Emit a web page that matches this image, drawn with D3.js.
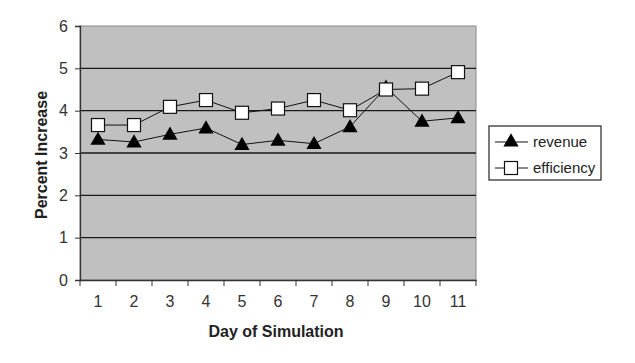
<!DOCTYPE html>
<html>
<head>
<meta charset="utf-8">
<script src="https://cdn.jsdelivr.net/npm/d3@7"></script>
<style>
  body { margin: 0; background: #fff; }
  text { font-family: "Liberation Sans", Arial, sans-serif; }
</style>
</head>
<body>
<script>
var days = ["1", "2", "3", "4", "5", "6", "7", "8", "9", "10", "11"];
var revenue = [3.32, 3.26, 3.44, 3.59, 3.20, 3.30, 3.22, 3.62, 4.55, 3.75, 3.83];
var efficiency = [3.66, 3.66, 4.09, 4.25, 3.95, 4.05, 4.25, 4.01, 4.50, 4.52, 4.91];
var yTicks = [0, 1, 2, 3, 4, 5, 6];

var width = 635,
    height = 363,
    plotLeft = 80, plotRight = 476, plotTop = 26, plotBottom = 280;

var svg = d3.select("body").append("svg")
    .attr("width", width)
    .attr("height", height);

var x = d3.scaleBand().domain(days).range([plotLeft, plotRight]);
var y = d3.scaleLinear().domain([0, 6]).range([plotBottom, plotTop]);

// plot background
svg.append("rect")
    .attr("x", plotLeft).attr("y", plotTop)
    .attr("width", plotRight - plotLeft).attr("height", plotBottom - plotTop)
    .attr("fill", "#c0c0c0")
    .attr("stroke", "#8a8a8a")
    .attr("stroke-width", 1);

// gridlines
svg.selectAll("line.grid")
    .data(yTicks.filter(function(d) { return d > 0 && d < 6; }))
  .enter().append("line")
    .attr("class", "grid")
    .attr("x1", plotLeft).attr("x2", plotRight)
    .attr("y1", function(d) { return y(d); })
    .attr("y2", function(d) { return y(d); })
    .attr("stroke", "#1a1a1a")
    .attr("stroke-width", 1.3);

// y axis
var yAxis = svg.append("g")
    .attr("transform", "translate(" + plotLeft + ",0)")
    .call(d3.axisLeft(y).tickValues(yTicks).tickSize(5).tickPadding(7).tickFormat(d3.format("d")));
yAxis.select(".domain").attr("stroke", "#333").attr("stroke-width", 1.3);
yAxis.selectAll(".tick line").attr("stroke", "#333");
yAxis.selectAll("text").attr("font-size", 16).attr("fill", "#333")
    .attr("font-family", "Liberation Sans, Arial, sans-serif");

// x axis with ticks at band edges
var xAxis = svg.append("g")
    .attr("transform", "translate(0," + plotBottom + ")")
    .call(d3.axisBottom(x).tickSize(0).tickPadding(16));
xAxis.select(".domain").attr("stroke", "#333").attr("stroke-width", 1.3);
xAxis.selectAll("text").attr("font-size", 16).attr("fill", "#333")
    .attr("font-family", "Liberation Sans, Arial, sans-serif");
xAxis.selectAll("line.edge")
    .data(days.concat(["end"]))
  .enter().append("line")
    .attr("class", "edge")
    .attr("x1", function(d, i) { return plotLeft + i * x.step(); })
    .attr("x2", function(d, i) { return plotLeft + i * x.step(); })
    .attr("y1", 0).attr("y2", 6)
    .attr("stroke", "#333");

// axis titles
svg.append("text")
    .attr("x", (plotLeft + plotRight) / 2 - 2).attr("y", 337)
    .attr("text-anchor", "middle")
    .attr("font-size", 16).attr("font-weight", "bold").attr("fill", "#222")
    .text("Day of Simulation");

svg.append("text")
    .attr("transform", "translate(47," + ((plotTop + plotBottom) / 2 + 2) + ") rotate(-90)")
    .attr("text-anchor", "middle")
    .attr("font-size", 16).attr("font-weight", "bold").attr("fill", "#222")
    .text("Percent Increase");

var cx = function(d, i) { return x(days[i]) + x.bandwidth() / 2; };
var line = d3.line()
    .x(function(d, i) { return cx(d, i); })
    .y(function(d) { return y(d); });

var tri = d3.symbol().type(d3.symbolTriangle).size(100);

svg.append("path").datum(revenue)
    .attr("d", line).attr("fill", "none").attr("stroke", "#111").attr("stroke-width", 1);
svg.append("path").datum(efficiency)
    .attr("d", line).attr("fill", "none").attr("stroke", "#111").attr("stroke-width", 1);

svg.selectAll("path.rev")
    .data(revenue)
  .enter().append("path")
    .attr("class", "rev")
    .attr("d", tri)
    .attr("transform", function(d, i) { return "translate(" + cx(d, i) + "," + (y(d) + 1) + ")"; })
    .attr("fill", "#000");

svg.selectAll("rect.eff")
    .data(efficiency)
  .enter().append("rect")
    .attr("class", "eff")
    .attr("x", function(d, i) { return cx(d, i) - 6.5; })
    .attr("y", function(d) { return y(d) - 6.5; })
    .attr("width", 13).attr("height", 13)
    .attr("fill", "#fff").attr("stroke", "#111").attr("stroke-width", 1.2);

// legend
var lg = svg.append("g").attr("transform", "translate(489,126)");
lg.append("rect")
    .attr("width", 112).attr("height", 54)
    .attr("fill", "#fff").attr("stroke", "#222").attr("stroke-width", 1.2);
var items = [{name: "revenue", type: "tri"}, {name: "efficiency", type: "sq"}];
var row = lg.selectAll("g.item").data(items).enter().append("g")
    .attr("transform", function(d, i) { return "translate(0," + (16 + i * 26) + ")"; });
row.append("line")
    .attr("x1", 6).attr("x2", 39).attr("y1", 0).attr("y2", 0)
    .attr("stroke", "#111");
row.filter(function(d) { return d.type === "tri"; }).append("path")
    .attr("d", tri).attr("transform", "translate(22,0)").attr("fill", "#000");
row.filter(function(d) { return d.type === "sq"; }).append("rect")
    .attr("x", 15.5).attr("y", -6.5).attr("width", 13).attr("height", 13)
    .attr("fill", "#fff").attr("stroke", "#111").attr("stroke-width", 1.2);
row.append("text")
    .attr("x", 44).attr("y", 5)
    .attr("font-size", 15).attr("fill", "#222")
    .text(function(d) { return d.name; });
</script>
</body>
</html>
